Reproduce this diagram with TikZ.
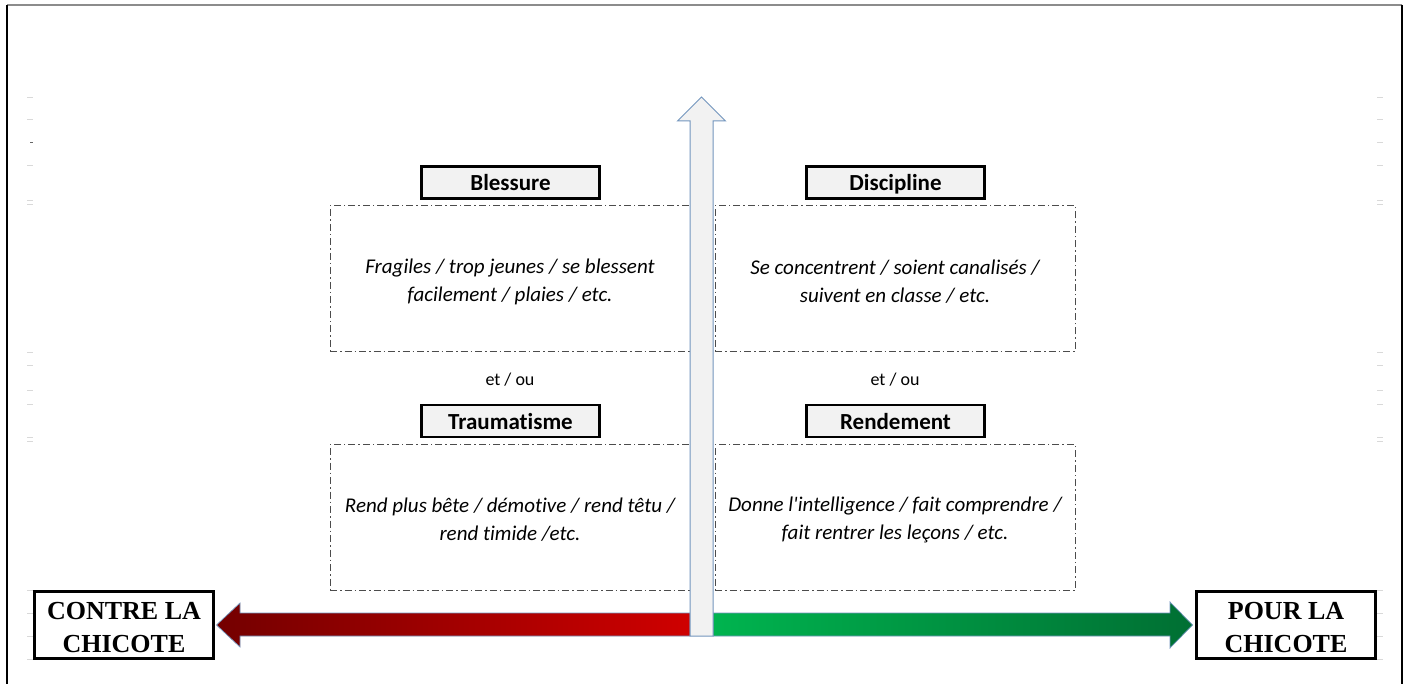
\documentclass[tikz,border=0pt]{standalone}
\usepackage{fontspec}
\newfontfamily\calibrifont[Ligatures=NoCommon]{Carlito}
\newfontfamily\timesfont{Liberation Serif}
\definecolor{arrowline}{HTML}{7396BE}
\definecolor{shaftfill}{HTML}{F2F2F2}
\definecolor{titlefill}{HTML}{F2F2F2}
\definecolor{darkred}{HTML}{740000}
\definecolor{brightred}{HTML}{CF0000}
\definecolor{brightgreen}{HTML}{00B44F}
\definecolor{darkgreen}{HTML}{006F33}
\begin{document}
\begin{tikzpicture}[x=1pt,y=-1pt,
  title/.style={draw=black, line width=2.6pt, fill=titlefill, minimum width=178pt,
    minimum height=32pt, inner sep=0pt, text height=18pt, text depth=2pt,
    font=\calibrifont\bfseries\fontsize{23}{26}\selectfont},
  zone/.style={draw=black!70, dash pattern=on 7pt off 3pt on 1.5pt off 3pt, line width=0.8pt,
    minimum width=360pt, minimum height=146pt, inner sep=0pt},
  zonetext/.style={inner sep=0pt, align=center, font=\calibrifont\itshape\fontsize{21}{28}\selectfont},
  side/.style={draw=black, line width=2.6pt, fill=white, minimum width=179pt,
    minimum height=67pt, inner sep=0pt},
  sidetext/.style={inner sep=0pt, align=center, font=\timesfont\bfseries\fontsize{26}{33}\selectfont},
  conj/.style={inner sep=0pt, font=\calibrifont\fontsize{18}{20}\selectfont},
  tick/.style={draw=black!15, line width=0.9pt}
]
\useasboundingbox (0,0) rectangle (1405,684);
\fill[white] (0,0) rectangle (1405,684);

% page frame
\draw[black!45, line width=1.2pt] (7,5) -- (1402,5);
\draw[black, line width=2pt] (7,5) -- (7,684);
\draw[black, line width=2pt] (1402,5) -- (1402,684);

% faint margin marks
\foreach \y in {97,119,165,200,204,352,365,390,404,437,441,590,613,636,659}{
  \draw[tick] (27,\y) -- (33,\y);
  \draw[tick] (1377,\y) -- (1383,\y);
}
\draw[black!60, line width=0.9pt] (30,142) -- (33,142);
\draw[tick] (1377,142) -- (1383,142);

% argument zones
\node[zone] (zblessure) at (510,278.5) {};
\node[zone] (zdiscipline) at (895,278.5) {};
\node[zone] (ztrauma) at (510,517) {};
\node[zone] (zrendement) at (895,517) {};
\node[zonetext] (tblessure) at ([yshift=-3pt]zblessure.center) {Fragiles / trop jeunes / se blessent\\facilement / plaies / etc.};
\node[zonetext] (tdiscipline) at ([yshift=-3pt]zdiscipline.center) {Se concentrent / soient canalisés /\\suivent en classe / etc.};
\node[zonetext] (ttrauma) at ([yshift=-3pt]ztrauma.center) {Rend plus bête / démotive / rend têtu /\\rend timide /etc.};
\node[zonetext] (trendement) at ([yshift=-3pt]zrendement.center) {Donne l'intelligence / fait comprendre /\\fait rentrer les leçons / etc.};

% headings
\node[title] (blessure) at (510.5,182.5) {Blessure};
\node[title] (discipline) at (895.5,182.5) {Discipline};
\node[title] (trauma) at (510.5,421) {Traumatisme};
\node[title] (rendement) at (895.5,421) {Rendement};

\node[conj] (etou1) at (510,380) {et / ou};
\node[conj] (etou2) at (895,380) {et / ou};

% horizontal arrows
\shadedraw[left color=darkred, right color=brightred, draw=arrowline, line width=0.7pt]
  (690,613) -- (240,613) -- (240,603) -- (216.5,625) -- (240,647) -- (240,636) -- (690,636) -- cycle;
\shadedraw[left color=brightgreen, right color=darkgreen, draw=arrowline, line width=0.7pt]
  (713,613) -- (1170,613) -- (1170,602) -- (1192.5,625) -- (1170,648) -- (1170,636) -- (713,636) -- cycle;

% vertical arrow
\filldraw[fill=shaftfill, draw=arrowline, line width=1pt]
  (690,636) -- (690,121) -- (677.5,121) -- (701.5,97) -- (725.5,121) -- (713,121) -- (713,636) -- cycle;

% end labels
\node[side] (contre) at (124,625) {};
\node[side] (pour) at (1286,625) {};
\node[sidetext] (tcontre) at ([yshift=-3pt]contre.center) {CONTRE LA\\CHICOTE};
\node[sidetext] (tpour) at ([yshift=-3pt]pour.center) {POUR LA\\CHICOTE};
\end{tikzpicture}
\end{document}
